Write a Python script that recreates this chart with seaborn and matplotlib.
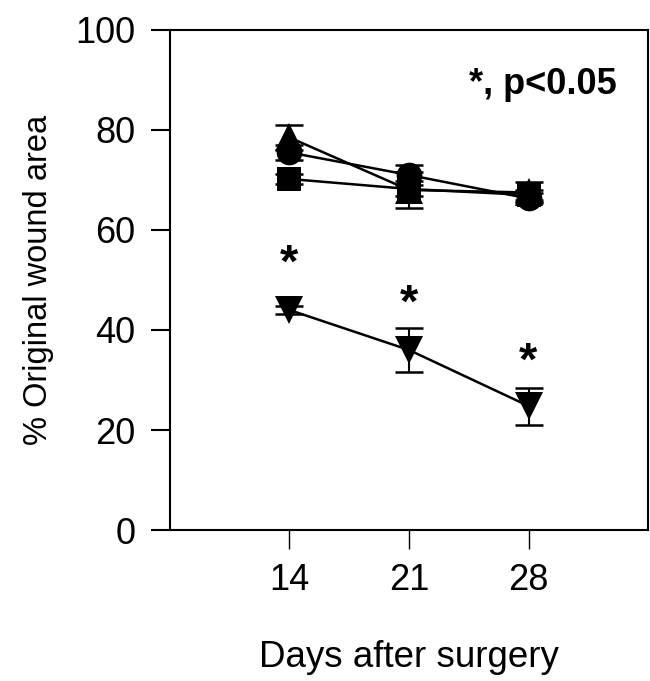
import pandas as pd
import seaborn as sns
import matplotlib.pyplot as plt

days = [14, 21, 28]
groups = ['triangle', 'circle', 'square', 'down']
triangle_mean = [78.5, 68.0, 67.5]
triangle_se = [2.5, 3.6, 2.0]
circle_mean = [75.5, 71.0, 66.3]
circle_se = [1.5, 2.0, 1.0]
square_mean = [70.2, 68.2, 67.0]
square_se = [1.0, 1.5, 1.0]
down_mean = [44.0, 36.0, 24.8]
down_se = [0.8, 4.3, 3.7]
star_y = [53.0, 45.0, 33.5]

means = {'triangle': triangle_mean, 'circle': circle_mean,
         'square': square_mean, 'down': down_mean}
ses = {'triangle': triangle_se, 'circle': circle_se,
       'square': square_se, 'down': down_se}

df = pd.DataFrame([
    {'group': g, 'day': d, 'mean': m, 'se': s}
    for g in groups
    for d, m, s in zip(days, means[g], ses[g])
])

sns.set_style('ticks')
plt.rcParams['font.family'] = ['Liberation Sans', 'DejaVu Sans']
plt.rcParams['text.color'] = 'black'
plt.rcParams['axes.labelcolor'] = 'black'
plt.rcParams['xtick.color'] = 'black'
plt.rcParams['ytick.color'] = 'black'

fig = plt.figure(figsize=(6.5, 6.81), dpi=100)
ax = fig.add_axes([0.2615, 0.2217, 0.7355, 0.7343])

# error bars first so the markers sit on top
for g in groups:
    sub = df[df['group'] == g]
    ax.errorbar(sub['day'], sub['mean'], yerr=sub['se'], fmt='none',
                ecolor='black', elinewidth=1.5, capsize=10, capthick=1.8,
                zorder=1)

sizes = {'triangle': 20, 'circle': 18.5, 'square': 17, 'down': 20}
markers = {'triangle': '^', 'circle': 'o', 'square': 's', 'down': 'v'}
for g in groups:
    sns.lineplot(data=df[df['group'] == g], x='day', y='mean', ax=ax,
                 color='black', marker=markers[g], markersize=sizes[g],
                 markeredgewidth=0, linewidth=1.8, zorder=2)

for d, y in zip(days, star_y):
    ax.text(d, y, '*', ha='center', va='center', fontsize=34,
            fontweight='bold')

ax.text(0.935, 0.89, '*, p<0.05', transform=ax.transAxes, ha='right',
        va='center', fontsize=26, fontweight='bold')

ax.set_xlim(7, 35)
ax.set_ylim(0, 100)
ax.set_xticks(days)
ax.set_yticks([0, 20, 40, 60, 80, 100])
ax.tick_params(axis='y', direction='out', length=14, width=1.5,
               labelsize=26, pad=11)
ax.tick_params(axis='x', direction='out', length=14, width=1,
               labelsize=26, pad=10)
for sp in ax.spines.values():
    sp.set_visible(True)
    sp.set_linewidth(1.5)
    sp.set_color('black')

ax.set_xlabel('Days after surgery', fontsize=26.5, labelpad=30)
ax.set_ylabel('% Original wound area', fontsize=23.5, labelpad=15)

fig.savefig('out.png', dpi=100)
